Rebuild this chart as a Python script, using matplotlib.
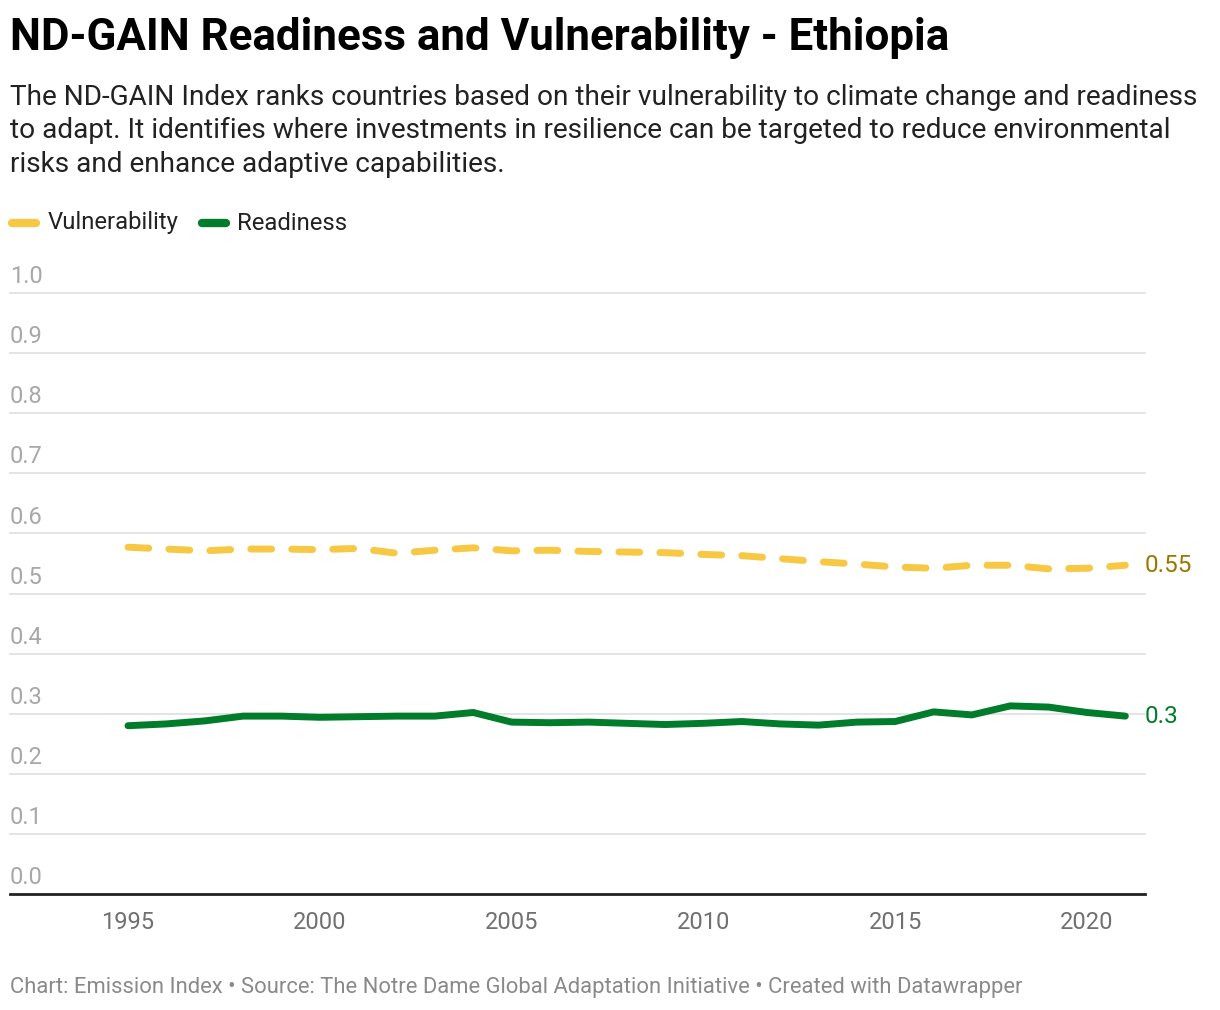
import numpy as np
import matplotlib
matplotlib.use("Agg")
import matplotlib.pyplot as plt

plt.rcParams['font.family'] = ['Roboto', 'DejaVu Sans']

# Data
years = list(range(1995, 2022))
vulnerability = [0.577, 0.574, 0.571, 0.574, 0.574, 0.573, 0.575, 0.567, 0.572, 0.576,
                 0.571, 0.572, 0.570, 0.569, 0.568, 0.565, 0.563, 0.558, 0.553, 0.549,
                 0.544, 0.542, 0.547, 0.547, 0.541, 0.542, 0.547]
readiness = [0.280, 0.283, 0.288, 0.296, 0.296, 0.294, 0.295, 0.296, 0.296, 0.302,
             0.286, 0.285, 0.286, 0.284, 0.282, 0.284, 0.287, 0.283, 0.281, 0.286,
             0.287, 0.303, 0.298, 0.313, 0.311, 0.302, 0.296]
y_ticks = [0.0, 0.1, 0.2, 0.3, 0.4, 0.5, 0.6, 0.7, 0.8, 0.9, 1.0]
x_ticks = [1995, 2000, 2005, 2010, 2015, 2020]

yellow = '#f7c843'
green = '#017c2b'

W, H = 1220, 1010
fig = plt.figure(figsize=(W / 100, H / 100), dpi=100)

# axes placed in pixel coordinates
left, right, top, bottom = 10, 1145, 293, 894
ax = fig.add_axes([left / W, 1 - bottom / H, (right - left) / W, (bottom - top) / H])
ax.set_xlim(1995 - (128 - left) / 38.36, 1995 + (right - 128) / 38.36)
ax.set_ylim(0, 1.0)

for v in y_ticks[1:]:
    ax.axhline(v, color='#e2e2e2', lw=1.3, zorder=0, clip_on=False)
for v in y_ticks:
    ax.text(0, v + 0.008, f'{v:.1f}', transform=ax.get_yaxis_transform(),
            ha='left', va='bottom', fontsize=17, color='#a8a8a8')

ax.plot(years, vulnerability, color=yellow, lw=5, dashes=(3.0, 2.9),
        dash_capstyle='round', solid_joinstyle='round', zorder=3)
ax.plot(years, readiness, color=green, lw=5, solid_capstyle='round',
        solid_joinstyle='round', zorder=3)

ax.text(years[-1] + 0.5, vulnerability[-1], '0.55', fontsize=17.5, color='#9c7700',
        ha='left', va='center')
ax.text(years[-1] + 0.5, readiness[-1], '0.3', fontsize=17.5, color=green,
        ha='left', va='center')

for s in ['top', 'right', 'left']:
    ax.spines[s].set_visible(False)
ax.spines['bottom'].set_color('#222222')
ax.spines['bottom'].set_linewidth(2)
ax.set_yticks([])
ax.set_xticks(x_ticks)
ax.set_xticklabels([str(x) for x in x_ticks], fontsize=17, color='#707070')
ax.tick_params(axis='x', length=0, pad=12)

# Header
fig.text(10 / W, 1 - 38 / H, 'ND-GAIN Readiness and Vulnerability - Ethiopia',
         fontsize=31.6, fontweight='bold', color='#000000', ha='left', va='center')
subtitle = ('The ND-GAIN Index ranks countries based on their vulnerability to climate change and readiness\n'
            'to adapt. It identifies where investments in resilience can be targeted to reduce environmental\n'
            'risks and enhance adaptive capabilities.')
fig.text(10 / W, 1 - 84 / H, subtitle, fontsize=20.2, color='#222222', ha='left', va='top',
         linespacing=1.3)

# Legend
fig.add_artist(plt.Line2D([12 / W, 36 / W], [1 - 223 / H] * 2, color=yellow, lw=6,
                          solid_capstyle='round'))
fig.text(48 / W, 1 - 223 / H, 'Vulnerability', fontsize=17.2, color='#222222', va='center')
fig.add_artist(plt.Line2D([202 / W, 226 / W], [1 - 223 / H] * 2, color=green, lw=6,
                          solid_capstyle='round'))
fig.text(237 / W, 1 - 223 / H, 'Readiness', fontsize=17.2, color='#222222', va='center')

# Footer
fig.text(10 / W, 1 - 987 / H,
         'Chart: Emission Index \u2022 Source: The Notre Dame Global Adaptation Initiative \u2022 Created with Datawrapper',
         fontsize=15.8, color='#8a8a8a', ha='left', va='center')

fig.savefig('out.png', dpi=100, facecolor='white')
